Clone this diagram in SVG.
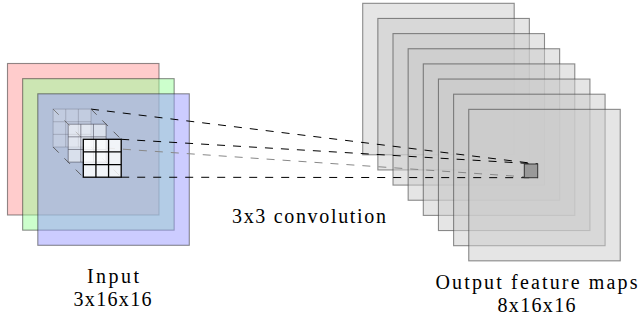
<svg xmlns="http://www.w3.org/2000/svg" width="643" height="320" viewBox="0 0 643 320">
  <defs>
    <style>
      .layer { stroke: #222; stroke-width: 1.1; stroke-opacity: 0.5; fill-opacity: 0.5; }
      .red { fill: #FF9999; }
      .green { fill: #99FF99; }
      .blue { fill: #9999FF; }
      .gray { fill: #CCCCCC; stroke: #444; stroke-opacity: 0.6; }
      .dash { fill: none; stroke: #000; stroke-width: 1; stroke-dasharray: 8 8; }
      .dash.faint { stroke: #888; }
      .depth { fill: none; stroke: #555; stroke-width: 0.9; stroke-dasharray: 8 8; }
      .cell-back { fill: #fff; fill-opacity: 0.2; stroke: #445; stroke-opacity: 0.25; stroke-width: 1; }
      .cell-mid { fill: #fff; fill-opacity: 0.5; stroke: #334; stroke-opacity: 0.5; stroke-width: 1; }
      .cell-front { fill: #fff; fill-opacity: 0.82; stroke: #000; stroke-width: 1.3; }
      .pixel { fill: #999; stroke: #333; stroke-width: 1; }
      .label { font-family: "Liberation Serif", "DejaVu Serif", serif; font-size: 20px; fill: #000; text-anchor: middle; }
    </style>
    <!-- one 3x3 kernel grid, 38 px square -->
    <g id="grid3">
      <rect x="0" y="0" width="37.9" height="37.9"/>
      <path d="M12.63 0V37.9M25.27 0V37.9M0 12.63H37.9M0 25.27H37.9"/>
    </g>
  </defs>

  <!-- input volume: three channels -->
  <g id="input">
    <rect class="layer red" x="7.5" y="63.5" width="151.5" height="151.5"/>
    <rect class="layer green" x="22.65" y="78.65" width="151.5" height="151.5"/>
    <rect class="layer blue" x="37.8" y="93.8" width="151.5" height="151.5"/>
  </g>

  <!-- output volume: eight feature maps -->
  <g id="output">
    <rect class="layer gray" x="362.7" y="3.3" width="151.5" height="151.5"/>
    <rect class="layer gray" x="377.85" y="18.45" width="151.5" height="151.5"/>
    <rect class="layer gray" x="393.0" y="33.6" width="151.5" height="151.5"/>
    <rect class="layer gray" x="408.15" y="48.75" width="151.5" height="151.5"/>
    <rect class="layer gray" x="423.3" y="63.9" width="151.5" height="151.5"/>
    <rect class="layer gray" x="438.45" y="79.05" width="151.5" height="151.5"/>
    <rect class="layer gray" x="453.6" y="94.2" width="151.5" height="151.5"/>
    <rect class="layer gray" x="468.75" y="109.35" width="151.5" height="151.5"/>
  </g>

  <!-- projection lines from the kernel to the output pixel, plus kernel depth edges -->
  <g id="connectors">
    <line class="dash" x1="91" y1="109.1" x2="537.7" y2="164"/>
    <line class="dash" x1="121.2" y1="139.3" x2="537.7" y2="164"/>
    <line class="dash faint" x1="91" y1="147" x2="537.7" y2="177.7"/>
    <line class="dash" x1="121.2" y1="177.2" x2="537.7" y2="177.7"/>
    <line class="depth" x1="53.1" y1="109.1" x2="83.3" y2="139.3"/>
    <line class="depth" x1="91" y1="109.1" x2="121.2" y2="139.3"/>
    <line class="depth" x1="53.1" y1="147" x2="83.3" y2="177.2"/>
    <line class="depth" x1="91" y1="147" x2="121.2" y2="177.2"/>
  </g>

  <!-- 3x3 kernel across the three channels -->
  <g id="kernel-back" class="cell-back">
    <use href="#grid3" x="53.1" y="109.1"/>
  </g>
  <g id="kernel-mid" class="cell-mid">
    <use href="#grid3" x="68.2" y="124.2"/>
  </g>
  <g id="kernel-front" class="cell-front">
    <use href="#grid3" x="83.3" y="139.3"/>
  </g>

  <!-- output pixel -->
  <g id="pixel">
    <rect class="pixel" x="524.3" y="164" width="13.4" height="13.7"/>
  </g>

  <g id="label-conv">
    <text class="label" x="309" y="223" textLength="154">3x3 convolution</text>
  </g>
  <g id="label-input">
    <text class="label" x="113" y="283" textLength="52">Input</text>
    <text class="label" x="112.5" y="306" textLength="78">3x16x16</text>
  </g>
  <g id="label-output">
    <text class="label" x="536.5" y="289" textLength="202">Output feature maps</text>
    <text class="label" x="536.5" y="312" textLength="78">8x16x16</text>
  </g>
</svg>
